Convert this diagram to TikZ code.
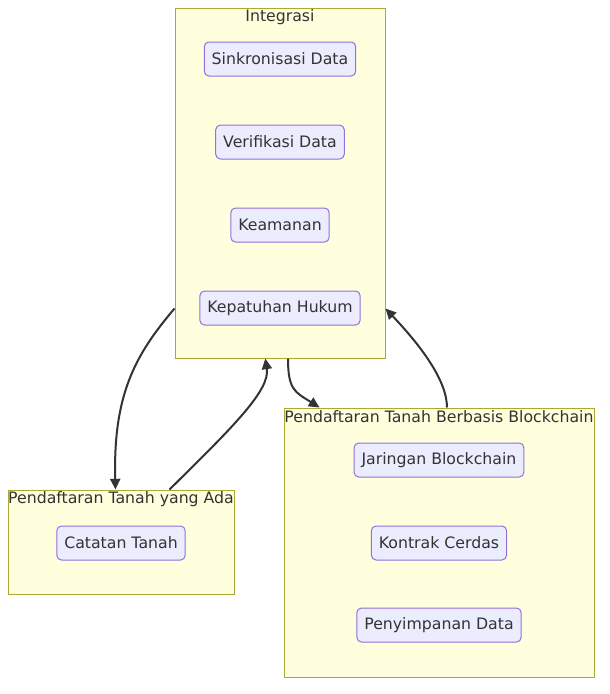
\documentclass[tikz,border=0pt]{standalone}
\usepackage{fontspec}
\setmainfont{DejaVu Sans}
\usetikzlibrary{arrows.meta,fit}
\definecolor{nodefill}{HTML}{ECECFF}
\definecolor{nodeline}{HTML}{9370DB}
\definecolor{clfill}{HTML}{FFFFDE}
\definecolor{clline}{HTML}{AAAA33}
\definecolor{txt}{HTML}{333333}
\tikzset{
  box/.style={draw=nodeline, fill=nodefill, line width=0.75pt, rounded corners=3.5pt,
    minimum height=25.5pt, inner xsep=5.6pt, inner ysep=0pt, text=txt, font=\fontsize{11.8}{14}\selectfont},
  cluster/.style={draw=clline, fill=clfill, line width=0.75pt, inner sep=0pt},
  cltitle/.style={text=txt, font=\fontsize{11.8}{14}\selectfont, inner sep=0pt},
  link/.style={draw=txt, line width=1.5pt, -{Triangle[length=8pt,width=7.5pt]}},
}
\begin{document}
\begin{tikzpicture}[x=0.75pt,y=-0.75pt]
\useasboundingbox (0,0) rectangle (610,694);
% clusters
\node[cluster, fit={(175,8) (385,358)}] (int) {};
\node[cluster, fit={(8,490) (234,594)}] (ada) {};
\node[cluster, fit={(284,408) (594,677)}] (bc) {};
\node[cltitle] (tint) at (280,17) {Integrasi};
\node[cltitle] (tada) at (121,499) {Pendaftaran Tanah yang Ada};
\node[cltitle] (tbc) at (439,417) {Pendaftaran Tanah Berbasis Blockchain};
% nodes
\node[box] (n1) at (280,59) {Sinkronisasi Data};
\node[box] (n2) at (280,142) {Verifikasi Data};
\node[box] (n3) at (280,225) {Keamanan};
\node[box] (n4) at (280,308) {Kepatuhan Hukum};
\node[box] (n5) at (121,543) {Catatan Tanah};
\node[box] (n6) at (439,460) {Jaringan Blockchain};
\node[box] (n7) at (439,543) {Kontrak Cerdas};
\node[box] (n8) at (439,625) {Penyimpanan Data};
% edges
\draw[link] ([yshift=37.5pt]int.south west) .. controls (135,355) and (113,395) .. ([xshift=81pt]ada.north west);
\draw[link] ([xshift=121.5pt]ada.north west) .. controls (235,425) and (270,390) .. ([xshift=-11pt]int.south);
\draw[link] ([xshift=6pt]int.south) .. controls (288,390) and (295,392) .. ([xshift=27pt]bc.north west);
\draw[link] ([xshift=6pt]bc.north) .. controls (447,380) and (420,345) .. ([yshift=37.5pt]int.south east);
\end{tikzpicture}
\end{document}
